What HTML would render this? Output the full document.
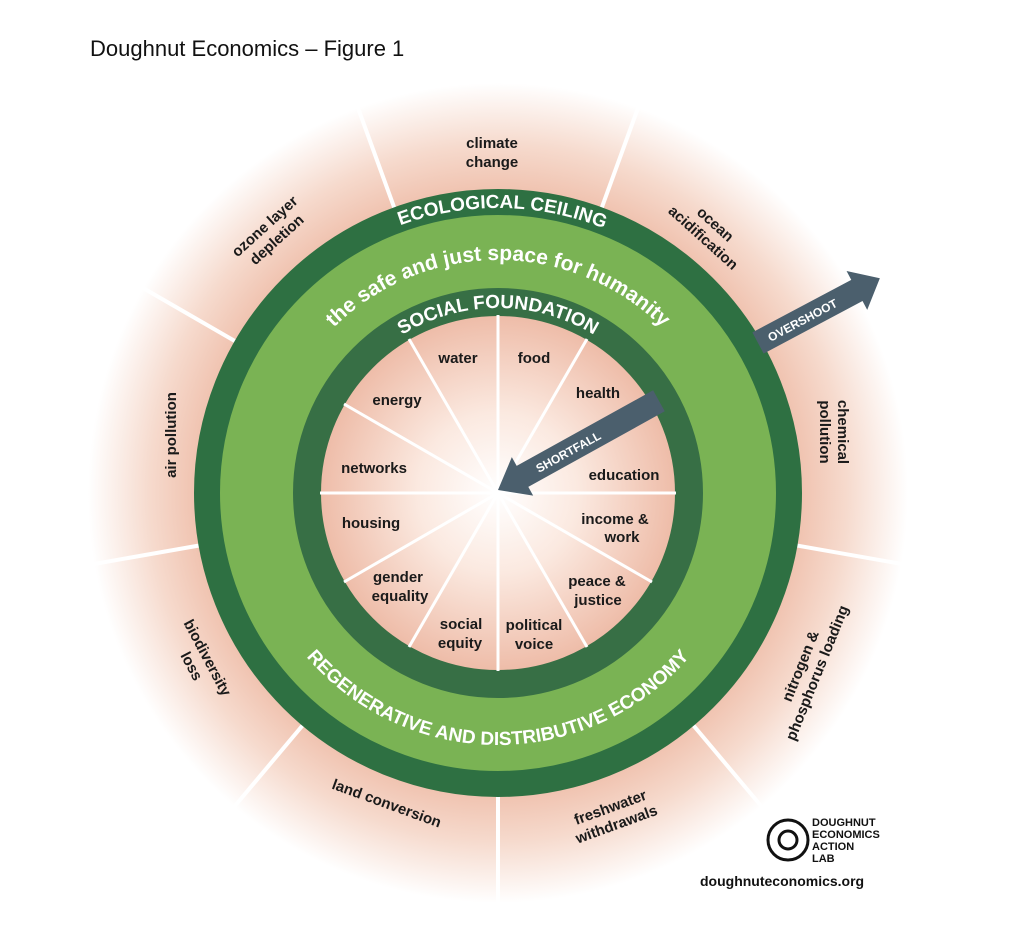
<!DOCTYPE html>
<html><head><meta charset="utf-8"><style>
html,body{margin:0;padding:0;background:#fff;width:1024px;height:930px;overflow:hidden}
svg{display:block}
</style></head><body>
<svg width="1024" height="930" viewBox="0 0 1024 930" xmlns="http://www.w3.org/2000/svg" font-family="'Liberation Sans', sans-serif">
<defs>
<radialGradient id="outer" cx="498" cy="493" r="410" gradientUnits="userSpaceOnUse">
<stop offset="0.7" stop-color="#eebba6"/>
<stop offset="0.85" stop-color="#f6dacd"/>
<stop offset="1" stop-color="#ffffff"/>
</radialGradient>
<radialGradient id="inner" cx="498" cy="493" r="178" gradientUnits="userSpaceOnUse">
<stop offset="0" stop-color="#ffffff"/>
<stop offset="0.45" stop-color="#fbe9e0"/>
<stop offset="1" stop-color="#eebca8"/>
</radialGradient>
<path id="ecoArc" d="M 213 493 A 285 285 0 0 1 783 493"/>
<path id="safeArc" d="M 265 493 A 233 233 0 0 1 731 493"/>
<path id="socArc" d="M 313 493 A 185 185 0 0 1 683 493"/>
<path id="regArc" d="M 246 493 A 252 252 0 0 0 750 493"/>
</defs>
<rect width="1024" height="930" fill="#fff"/>
<text x="90" y="56" font-size="22" fill="#111">Doughnut Economics – Figure 1</text>

<circle cx="498" cy="493" r="410" fill="url(#outer)"/>
<g stroke="#fff" stroke-width="4">
<line x1="498" y1="493" x2="358" y2="108"/>
<line x1="498" y1="493" x2="638" y2="108"/>
<line x1="498" y1="493" x2="853" y2="288"/>
<line x1="498" y1="493" x2="902" y2="564"/>
<line x1="498" y1="493" x2="762" y2="807"/>
<line x1="498" y1="493" x2="498" y2="903"/>
<line x1="498" y1="493" x2="234" y2="807"/>
<line x1="498" y1="493" x2="94" y2="564"/>
<line x1="498" y1="493" x2="143" y2="288"/>
</g>

<circle cx="498" cy="493" r="291" fill="#7ab354" stroke="#2e7042" stroke-width="26"/>
<circle cx="498" cy="493" r="191" fill="url(#inner)" stroke="#376f45" stroke-width="28"/>
<g stroke="#fff" stroke-width="3">
<line x1="498" y1="315" x2="498" y2="671"/>
<line x1="320" y1="493" x2="676" y2="493"/>
<line x1="409" y1="339" x2="587" y2="647"/>
<line x1="587" y1="339" x2="409" y2="647"/>
<line x1="344" y1="404" x2="652" y2="582"/>
<line x1="652" y1="404" x2="344" y2="582"/>
</g>

<g fill="#fff" font-weight="bold">
<text font-size="19"><textPath href="#ecoArc" startOffset="50.5%" text-anchor="middle">ECOLOGICAL CEILING</textPath></text>
<text font-size="21"><textPath href="#safeArc" startOffset="50%" text-anchor="middle">the safe and just space for humanity</textPath></text>
<text font-size="19"><textPath href="#socArc" startOffset="50%" text-anchor="middle">SOCIAL FOUNDATION</textPath></text>
<text font-size="19"><textPath href="#regArc" startOffset="50%" text-anchor="middle">REGENERATIVE AND DISTRIBUTIVE ECONOMY</textPath></text>
</g>

<g transform="translate(758,343) rotate(-28)">
<polygon points="0,-12 112,-12 112,-22 138,0 112,22 112,12 0,12" fill="#4b5f6d"/>
<text x="50" y="5" font-size="12" font-weight="bold" fill="#fff" text-anchor="middle">OVERSHOOT</text>
</g>
<g transform="translate(498,490) rotate(-29)">
<polygon points="0,0 28,-22 28,-12 184,-12 184,12 28,12 28,22" fill="#4b5f6d"/>
<text x="80" y="5" font-size="12" font-weight="bold" fill="#fff" text-anchor="middle">SHORTFALL</text>
</g>

<g font-size="15" font-weight="bold" fill="#1a1a1a" text-anchor="middle">
<text x="458" y="363">water</text>
<text x="534" y="363">food</text>
<text x="598" y="398">health</text>
<text x="397" y="405">energy</text>
<text x="374" y="473">networks</text>
<text x="624" y="480">education</text>
<text x="371" y="528">housing</text>
<text x="615" y="524">income &amp;</text><text x="622" y="542">work</text>
<text x="398" y="582">gender</text><text x="400" y="601">equality</text>
<text x="597" y="586">peace &amp;</text><text x="598" y="605">justice</text>
<text x="461" y="629">social</text><text x="460" y="648">equity</text>
<text x="534" y="630">political</text><text x="534" y="649">voice</text>

<text x="492" y="148">climate</text><text x="492" y="167">change</text>
<g transform="translate(268,230) rotate(-42)"><text x="0" y="0">ozone layer</text><text x="0" y="18">depletion</text></g>
<g transform="translate(712,228) rotate(42)"><text x="0" y="0">ocean</text><text x="0" y="18">acidification</text></g>
<g transform="translate(176,435) rotate(-90)"><text x="0" y="0">air pollution</text></g>
<g transform="translate(838,432) rotate(90)"><text x="0" y="0">chemical</text><text x="0" y="18">pollution</text></g>
<g transform="translate(203,660) rotate(62)"><text x="0" y="0">biodiversity</text><text x="0" y="18">loss</text></g>
<g transform="translate(805,668) rotate(-68)"><text x="0" y="0">nitrogen &amp;</text><text x="0" y="18">phosphorus loading</text></g>
<g transform="translate(385,808) rotate(20)"><text x="0" y="0">land conversion</text></g>
<g transform="translate(612,812) rotate(-20)"><text x="0" y="0">freshwater</text><text x="0" y="18">withdrawals</text></g>
</g>

<circle cx="788" cy="840" r="20" fill="none" stroke="#111" stroke-width="3"/>
<circle cx="788" cy="840" r="9" fill="none" stroke="#111" stroke-width="3"/>
<g font-size="11" font-weight="bold" fill="#111">
<text x="812" y="826">DOUGHNUT</text>
<text x="812" y="838">ECONOMICS</text>
<text x="812" y="850">ACTION</text>
<text x="812" y="862">LAB</text>
</g>
<text x="700" y="886" font-size="14" font-weight="bold" fill="#111">doughnuteconomics.org</text>
</svg>
</body></html>
